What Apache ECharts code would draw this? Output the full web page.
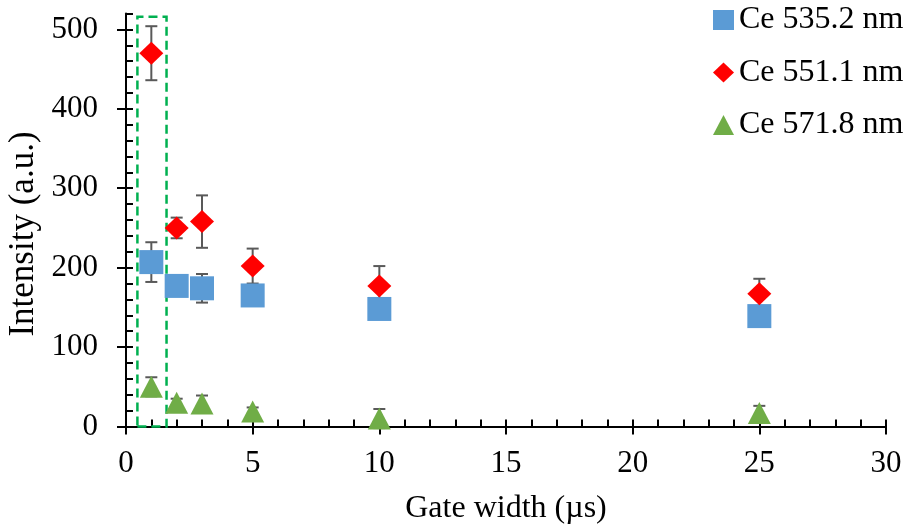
<!DOCTYPE html>
<html>
<head>
<meta charset="utf-8">
<script src="https://cdn.jsdelivr.net/npm/echarts@6/dist/echarts.min.js"></script>
<style>
html,body{margin:0;padding:0;background:#fff;}
#chart{width:908px;height:527px;}
</style>
</head>
<body>
<div id="chart"></div>
<script>
// ---- data ----
const gateWidth = [1, 2, 3, 5, 10, 25];
const ce535 = [207, 177, 174, 165, 148, 139];
const ce535Err = [25, 8, 18, 8, 8, 8];
const ce551 = [470, 250, 258, 202, 177, 167];
const ce551Err = [34, 13, 33, 22, 25, 19];
const ce571 = [50, 30, 29, 19, 10, 17];
const ce571Err = [12, 5, 10, 5, 12, 9];
const seriesNames = ['Ce 535.2 nm', 'Ce 551.1 nm', 'Ce 571.8 nm'];
const xTitle = 'Gate width (µs)';
const yTitle = 'Intensity (a.u.)';
const xMajorTicks = [0, 5, 10, 15, 20, 25, 30];
const xMinorTicks = Array.from({length: 31}, (_, i) => i);
const yMajorTicks = [0, 100, 200, 300, 400, 500];
const yMinorTicks = Array.from({length: 27}, (_, i) => i * 20);
const highlightBox = [[0.45, 0], [1.6, 516]];

const FONT = 'Liberation Serif';
const FS_TICK = 31;
const FS_TEXT = 32;

function pts(ys) { return gateWidth.map((x, i) => [x, ys[i]]); }
function errs(ys, es) { return gateWidth.map((x, i) => [x, ys[i] - es[i], ys[i] + es[i]]); }

function errorRender(params, api) {
  const x = api.value(0);
  const lo = api.coord([x, api.value(1)]);
  const hi = api.coord([x, api.value(2)]);
  const cw = 6;
  const style = {stroke: '#595959', lineWidth: 2};
  return {
    type: 'group',
    children: [
      {type: 'line', shape: {x1: lo[0], y1: lo[1], x2: hi[0], y2: hi[1]}, style: style},
      {type: 'line', shape: {x1: lo[0] - cw, y1: lo[1], x2: lo[0] + cw, y2: lo[1]}, style: style},
      {type: 'line', shape: {x1: hi[0] - cw, y1: hi[1], x2: hi[0] + cw, y2: hi[1]}, style: style}
    ]
  };
}

const chart = echarts.init(document.getElementById('chart'));
const axisLineStyle = {color: '#000', width: 2};
chart.setOption({
  backgroundColor: '#fff',
  animation: false,
  textStyle: {fontFamily: FONT},
  grid: {left: 126, right: 22, top: 13.5, bottom: 100.5, containLabel: false, outerBoundsMode: 'none'},
  graphic: [{
    type: 'text',
    x: 24, y: 234,
    rotation: Math.PI / 2,
    style: {text: yTitle, fontFamily: FONT, fontSize: 35, fill: '#000', align: 'center', verticalAlign: 'middle'}
  }],
  legend: {
    orient: 'vertical',
    left: 713,
    top: 4,
    padding: 0,
    itemWidth: 21,
    itemHeight: 20,
    itemGap: 20.5,
    data: seriesNames,
    textStyle: {fontFamily: FONT, fontSize: FS_TEXT, color: '#000', lineHeight: 32}
  },
  xAxis: [
    {
      type: 'value', min: 0, max: 30, position: 'bottom',
      name: xTitle, nameLocation: 'middle', nameGap: 66,
      nameTextStyle: {fontFamily: FONT, fontSize: FS_TEXT, color: '#000'},
      axisLine: {onZero: false, lineStyle: axisLineStyle},
      axisTick: {show: true, inside: false, length: 8, customValues: xMajorTicks, lineStyle: {color: '#000', width: 2}},
      axisLabel: {customValues: xMajorTicks, fontFamily: FONT, fontSize: FS_TICK, color: '#000', margin: 22},
      splitLine: {show: false}
    },
    {
      type: 'value', min: 0, max: 30, position: 'bottom',
      axisLine: {show: false, onZero: false},
      axisTick: {show: true, inside: true, length: 7, customValues: xMinorTicks, lineStyle: {color: '#000', width: 2}},
      axisLabel: {show: false},
      splitLine: {show: false}
    }
  ],
  yAxis: [
    {
      type: 'value', min: 0, max: 520, position: 'left',
      axisLine: {onZero: false, lineStyle: axisLineStyle},
      axisTick: {show: true, inside: false, length: 9, customValues: yMajorTicks, lineStyle: {color: '#000', width: 2}},
      axisLabel: {customValues: yMajorTicks, fontFamily: FONT, fontSize: FS_TICK, color: '#000', margin: 28},
      splitLine: {show: false}
    },
    {
      type: 'value', min: 0, max: 520, position: 'left',
      axisLine: {show: false, onZero: false},
      axisTick: {show: true, inside: true, length: 7, customValues: yMinorTicks, lineStyle: {color: '#000', width: 2}},
      axisLabel: {show: false},
      splitLine: {show: false}
    }
  ],
  series: [
    {type: 'custom', name: 'err535', renderItem: errorRender, data: errs(ce535, ce535Err), z: 1, silent: true},
    {type: 'custom', name: 'err551', renderItem: errorRender, data: errs(ce551, ce551Err), z: 1, silent: true},
    {type: 'custom', name: 'err571', renderItem: errorRender, data: errs(ce571, ce571Err), z: 1, silent: true},
    {
      type: 'scatter', name: seriesNames[0], symbol: 'rect', symbolSize: 24,
      itemStyle: {color: '#5b9bd5', opacity: 1}, data: pts(ce535), z: 3,
      markArea: {
        silent: true,
        itemStyle: {color: 'rgba(0,0,0,0)', borderColor: '#00b050', borderWidth: 2.5, borderType: [9, 5]},
        data: [[{coord: highlightBox[0]}, {coord: highlightBox[1]}]]
      }
    },
    {
      type: 'scatter', name: seriesNames[1], symbol: 'diamond', symbolSize: [24, 23],
      itemStyle: {color: '#ff0000', opacity: 1}, data: pts(ce551), z: 3
    },
    {
      type: 'scatter', name: seriesNames[2], symbol: 'triangle', symbolSize: [23, 22],
      itemStyle: {color: '#70ad47', opacity: 1}, data: pts(ce571), z: 3
    }
  ]
});
</script>
</body>
</html>
